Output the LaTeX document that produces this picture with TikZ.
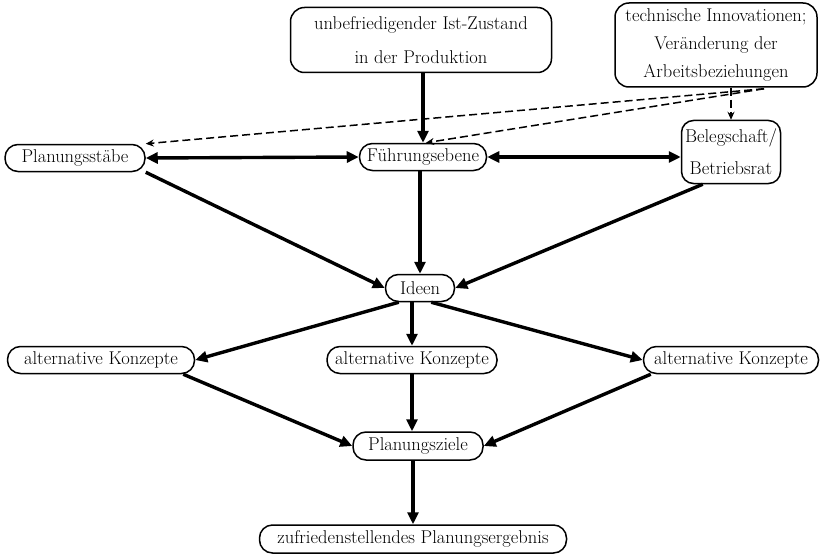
\documentclass[tikz,border=0pt]{standalone}
\usetikzlibrary{arrows.meta,calc}
\begin{document}
\begin{tikzpicture}[x=1pt,y=-1pt,
  every node/.style={font=\fontsize{18.5}{30}\selectfont, inner sep=0pt},
  pill/.style={draw, line width=1.5pt, rounded corners=13pt, minimum height=27pt},
  bigbox/.style={draw, line width=1.5pt, rounded corners=14pt, align=center},
  arr/.style={line width=3.4pt, -{Triangle[length=12pt,width=11pt]}},
  darr/.style={line width=3.4pt, {Triangle[length=12pt,width=11pt]}-{Triangle[length=12pt,width=11pt]}},
  dsh/.style={line width=1.5pt, dash pattern=on 8pt off 4pt, -{Stealth[length=8pt,width=7pt]}}
]
\useasboundingbox (0,0) rectangle (821,559);
\node[bigbox, minimum width=261pt, minimum height=65pt, font=\fontsize{18.5}{34}\selectfont] (top) at (421,40) {unbefriedigender Ist-Zustand\\in der Produktion};
\node[bigbox, minimum width=202pt, minimum height=84pt, font=\fontsize{18.5}{28}\selectfont] (inno) at (716,45) {technische Innovationen;\\Veränderung der\\Arbeitsbeziehungen};
\node[pill, minimum width=140pt] (plan) at (75,158) {Planungsstäbe};
\node[pill, minimum width=127pt] (fuehr) at (423,157) {Führungsebene};
\node[bigbox, rounded corners=12pt, minimum width=99pt, minimum height=63pt, font=\fontsize{18.5}{32}\selectfont] (beleg) at (731,152) {Belegschaft/\\Betriebsrat};
\node[pill, minimum width=69pt] (ideen) at (420,288) {Ideen};
\node[pill, minimum width=187pt] (altL) at (101,360) {alternative Konzepte};
\node[pill, minimum width=170pt] (altM) at (412,360) {alternative Konzepte};
\node[pill, minimum width=175pt] (altR) at (731,360) {alternative Konzepte};
\node[pill, minimum width=130pt, minimum height=28pt] (ziele) at (418,446) {Planungsziele};
\node[pill, minimum width=307pt, minimum height=28pt] (result) at (413,539) {zufriedenstellendes Planungsergebnis};

\coordinate (ds) at ($(inno.south)+(48,1)$);
\coordinate (fn) at ($(fuehr.north)+(3,0)$);

\draw[arr] (top.south -| fuehr.north) -- (fuehr.north);
\draw[dsh] (ds) -- (plan.north east);
\draw[dsh] (ds) -- (fn);
\draw[dsh] (inno.south -| beleg.north) -- (beleg.north);

\draw[darr] (plan.east) -- (fuehr.west);
\draw[darr] (fuehr.east) -- (fuehr.east -| beleg.west);

\draw[arr] (plan.south east) -- (ideen.west);
\draw[arr] (fuehr.south -| ideen.north) -- (ideen.north);
\draw[arr] ($(beleg.south west)+(22,0)$) -- (ideen.east);

\draw[arr] ($(ideen.south west)+(14,0)$) -- (altL.east);
\draw[arr] (ideen.south -| altM.north) -- (altM.north);
\draw[arr] ($(ideen.south east)+(-24,0)$) -- (altR.west);

\draw[arr] ($(altL.south east)+(-12,0)$) -- (ziele.west);
\draw[arr] (altM.south) -- (altM.south |- ziele.north);
\draw[arr] ($(altR.south west)+(8,0)$) -- (ziele.east);

\draw[arr] (ziele.south -| result.north) -- (result.north);
\end{tikzpicture}
\end{document}
